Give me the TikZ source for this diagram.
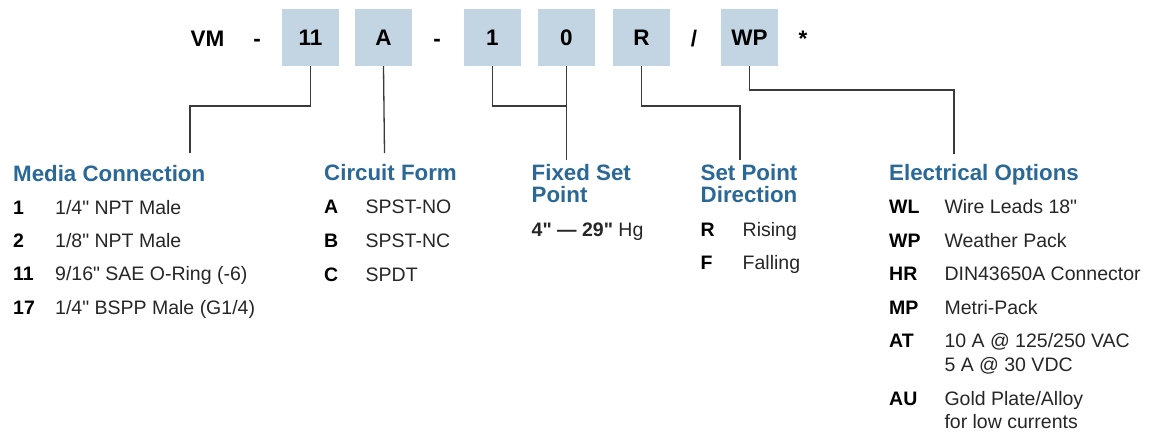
\documentclass[tikz,border=0pt]{standalone}
\usepackage{fontspec}
\setmainfont{Liberation Sans}[Ligatures=TeXOff]
\definecolor{boxfill}{HTML}{C3D5E2}
\definecolor{hdrblue}{HTML}{2A6898}
\definecolor{linegray}{HTML}{3A3A3A}
\newcommand{\qd}{\char34\relax}
\begin{document}
\begin{tikzpicture}[x=1pt,y=-1pt,
  codebox/.style={fill=boxfill,minimum width=57pt,minimum height=57pt,inner sep=0pt,font=\fontsize{22.5}{26}\selectfont\bfseries},
  toptxt/.style={anchor=base,inner sep=0pt,font=\fontsize{22.5}{26}\selectfont\bfseries},
  hdr/.style={anchor=base west,inner sep=0pt,text=hdrblue,font=\fontsize{22.3}{22}\selectfont\bfseries},
  code/.style={anchor=base west,inner sep=0pt,font=\fontsize{19.5}{24}\selectfont\bfseries},
  desc/.style={anchor=base west,inner sep=0pt,text=black!85,font=\fontsize{19.5}{24}\selectfont},
  conn/.style={draw=linegray,line width=1.3pt}]
\useasboundingbox (0,0) rectangle (1154,434);
% top code row
\node[toptxt] (vm) at (207.5,46.5) {VM};
\node[toptxt] (d1) at (257,46.5) {-};
\node[codebox] (b11) at (310.5,37.5) {11};
\node[codebox] (bA) at (383.5,37.5) {A};
\node[toptxt] (d2) at (437,46.5) {-};
\node[codebox] (b1) at (492.5,37.5) {1};
\node[codebox] (b0) at (566.5,37.5) {0};
\node[codebox] (bR) at (641.5,37.5) {R};
\node[toptxt] (sl) at (694,46.5) {/};
\node[codebox] (bWP) at (749.5,37.5) {WP};
\node[toptxt] (st) at (803,46.5) {*};
% connector coordinates
\coordinate (mcBend) at (190,106);
\coordinate (mcEnd) at (190,153);
\coordinate (cfEnd) at (384.5,153);
\coordinate (fsEnd) at (566.5,160);
\coordinate (sdBend) at (740,106);
\coordinate (sdEnd) at (740,160);
\coordinate (eoBend) at (954,90);
\coordinate (eoEnd) at (954,154);
\draw[conn] (b11.south) |- (mcBend) -- (mcEnd);
\draw[conn] (bA.south) -- (cfEnd);
\draw[conn] (b1.south) |- (b0.south |- mcBend);
\draw[conn] (b0.south) -- (fsEnd);
\draw[conn] (bR.south) |- (sdBend) -- (sdEnd);
\draw[conn] (bWP.south) |- (eoBend) -- (eoEnd);
% Media Connection
\node[hdr] (h1) at (13,181) {Media Connection};
\node[code] (c1a) at (13,214) {1};
\node[desc] (t1a) at (55,214) {1/4\qd{} NPT Male};
\node[code] (c1b) at (13,247.3) {2};
\node[desc] (t1b) at (55,247.3) {1/8\qd{} NPT Male};
\node[code] (c1c) at (13,280.7) {11};
\node[desc] (t1c) at (55,280.7) {9/16\qd{} SAE O-Ring (-6)};
\node[code] (c1d) at (13,314) {17};
\node[desc] (t1d) at (55,314) {1/4\qd{} BSPP Male (G1/4)};
% Circuit Form
\node[hdr] (h2) at (324,180.5) {Circuit Form};
\node[code] (c2a) at (324,213.3) {A};
\node[desc] (t2a) at (365.5,213.3) {SPST-NO};
\node[code] (c2b) at (324,247) {B};
\node[desc] (t2b) at (365.5,247) {SPST-NC};
\node[code] (c2c) at (324,281) {C};
\node[desc] (t2c) at (365.5,281) {SPDT};
% Fixed Set Point
\node[hdr] (h3a) at (531.5,180.7) {Fixed Set};
\node[hdr] (h3b) at (531.5,202.7) {Point};
\node[desc] (t3a) at (531.5,236) {\textbf{4\qd{} \textemdash\ 29\qd{}} Hg};
% Set Point Direction
\node[hdr] (h4a) at (700.5,180.7) {Set Point};
\node[hdr] (h4b) at (700.5,202.7) {Direction};
\node[code] (c4a) at (700.5,236) {R};
\node[desc] (t4a) at (742.5,236) {Rising};
\node[code] (c4b) at (700.5,269.3) {F};
\node[desc] (t4b) at (742.5,269.3) {Falling};
% Electrical Options
\node[hdr] (h5) at (889,180.7) {Electrical Options};
\node[code] (c5a) at (889,213.3) {WL};
\node[desc] (t5a) at (944.3,213.3) {Wire Leads 18\qd{}};
\node[code] (c5b) at (889,247.3) {WP};
\node[desc] (t5b) at (944.3,247.3) {Weather Pack};
\node[code] (c5c) at (889,280.7) {HR};
\node[desc] (t5c) at (944.3,280.7) {DIN43650A Connector};
\node[code] (c5d) at (889,314) {MP};
\node[desc] (t5d) at (944.3,314) {Metri-Pack};
\node[code] (c5e) at (889,347.3) {AT};
\node[desc] (t5e) at (944.3,347.3) {10 A @ 125/250 VAC};
\node[desc] (t5f) at (944.3,371.3) {5 A @ 30 VDC};
\node[code] (c5g) at (889,405.3) {AU};
\node[desc] (t5g) at (944.3,405.3) {Gold Plate/Alloy};
\node[desc] (t5h) at (944.3,428.7) {for low currents};
\end{tikzpicture}
\end{document}
